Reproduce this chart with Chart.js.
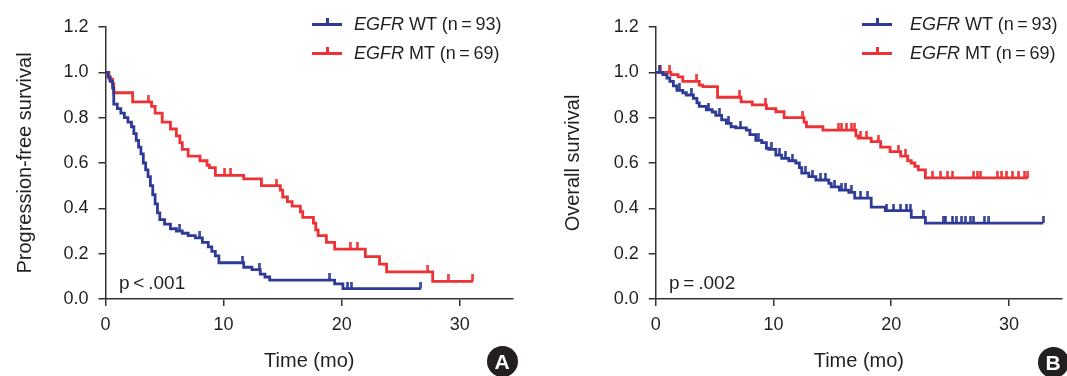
<!DOCTYPE html>
<html>
<head>
<meta charset="utf-8">
<script src="https://cdn.jsdelivr.net/npm/chart.js@4.4.1/dist/chart.umd.min.js"></script>
<style>
  html, body { margin: 0; padding: 0; background: #fff; }
  body { font-family: 'Liberation Sans', Arial, sans-serif; color: #231f20; }
  #wrap { position: relative; width: 1067px; height: 376px; overflow: hidden; }
  .panel { position: absolute; top: 0; height: 376px; }
  .legend-row { position: absolute; height: 24px; line-height: 24px; font-size: 18px; white-space: nowrap; }
  .legend-line { position: absolute; left: 0; top: 11px; width: 30px; height: 3px; }
  .legend-tick { position: absolute; left: 14px; top: 6px; width: 2.5px; height: 6px; }
  .legend-text { position: absolute; top: 0; }
  .pval { position: absolute; font-size: 19px; line-height: 24px; white-space: nowrap; }
  .badge { position: absolute; width: 31px; height: 31px; border-radius: 50%; background: #231f20; color: #fff;
           font-weight: bold; font-size: 21px; line-height: 31px; text-align: center; }
</style>
</head>
<body>
<div id="wrap">
  <div class="panel" style="left:0;width:533px"><canvas id="pfsChart"></canvas></div>
  <div class="panel" style="left:533px;width:534px"><canvas id="osChart"></canvas></div>
</div>
<script>
// Kaplan-Meier curves (time in months, survival as fraction)
const groupNames = ['WT', 'MT'];
const groupCounts = [93, 69];
const xTicks = [0, 10, 20, 30];
const yTicks = [0.0, 0.2, 0.4, 0.6, 0.8, 1.0, 1.2];

// A: progression-free survival
const pfsWtTime = [0.2, 0.4, 0.6, 0.7, 1.0, 1.3, 1.6, 1.9, 2.2, 2.4, 2.6, 2.8, 3.0, 3.2, 3.4, 3.6, 3.8, 4.0, 4.2, 4.4,
                   4.6, 5.0, 5.5, 6.0, 6.5, 7.0, 7.6, 8.2, 8.7, 9.0, 9.3, 9.6, 11.7, 12.4, 13.1, 13.5, 13.9, 19.4, 20.1];
const pfsWtSurv = [0.98, 0.96, 0.93, 0.86, 0.84, 0.82, 0.80, 0.78, 0.76, 0.73, 0.70, 0.67, 0.64, 0.60, 0.57, 0.54, 0.50, 0.46, 0.42, 0.38,
                   0.35, 0.33, 0.31, 0.30, 0.29, 0.28, 0.27, 0.25, 0.23, 0.21, 0.19, 0.16, 0.14, 0.13, 0.11, 0.097, 0.083, 0.067, 0.046];
const pfsWtCensor = [6.3, 8.0, 11.6, 13.0, 19.0, 20.5, 20.8, 26.7];

const pfsMtTime = [0.3, 0.6, 0.7, 2.3, 3.9, 4.2, 4.8, 5.5, 6.0, 6.3, 6.5, 7.0, 8.0, 8.6, 8.8, 9.3, 11.7, 13.2, 14.8, 15.0,
                   15.4, 15.8, 16.5, 16.7, 17.6, 17.8, 18.0, 18.7, 19.4, 22.0, 23.2, 23.8, 27.7];
const pfsMtSurv = [0.97, 0.95, 0.91, 0.87, 0.85, 0.82, 0.78, 0.75, 0.72, 0.69, 0.66, 0.63, 0.61, 0.59, 0.58, 0.545, 0.53, 0.50, 0.48, 0.45,
                   0.43, 0.41, 0.385, 0.36, 0.335, 0.305, 0.28, 0.25, 0.22, 0.187, 0.154, 0.12, 0.078];
const pfsMtCensor = [3.6, 10.1, 10.6, 14.5, 20.7, 21.3, 27.3, 29.0, 31.1];

// B: overall survival
const osWtTime = [0.6, 0.95, 1.2, 1.5, 1.8, 2.3, 2.6, 3.2, 3.5, 3.7, 4.3, 4.8, 5.1, 5.6, 6.0, 6.4, 6.8, 7.7, 8.0, 8.5,
                  9.0, 9.4, 9.6, 10.2, 10.7, 11.3, 11.9, 12.2, 12.4, 13.0, 13.6, 14.7, 14.9, 15.6, 16.4, 16.9, 18.3, 19.5, 21.7, 22.9];
const osWtSurv = [0.99, 0.975, 0.96, 0.94, 0.92, 0.91, 0.90, 0.885, 0.865, 0.85, 0.835, 0.825, 0.81, 0.79, 0.775, 0.76, 0.755, 0.745, 0.725, 0.70,
                  0.69, 0.665, 0.66, 0.635, 0.62, 0.61, 0.60, 0.58, 0.555, 0.54, 0.525, 0.51, 0.495, 0.48, 0.47, 0.445, 0.405, 0.39, 0.36, 0.335];
const osWtCensor = [0.3, 2.0, 3.0, 4.5, 5.4, 6.2, 7.2, 8.7, 9.8, 10.5, 11.0, 11.6, 12.7, 13.3, 14.0, 14.4, 15.2, 15.8, 16.1, 16.6,
                    17.4, 18.0, 19.6, 20.2, 20.8, 21.3, 21.6, 22.7, 24.4, 24.6, 25.2, 25.5, 26.0, 26.3, 26.7, 27.0, 27.9, 28.3, 32.9];

const osMtTime = [1.3, 1.9, 2.3, 3.7, 4.0, 5.25, 7.25, 8.2, 9.4, 10.2, 10.9, 12.6, 12.8, 14.2, 17.0, 17.2, 18.3, 19.1, 19.9, 20.8,
                  21.4, 21.7, 22.0, 22.3, 22.9];
const osMtSurv = [0.99, 0.98, 0.96, 0.944, 0.937, 0.89, 0.87, 0.856, 0.84, 0.826, 0.80, 0.78, 0.76, 0.745, 0.72, 0.71, 0.694, 0.67, 0.65, 0.63,
                  0.61, 0.60, 0.585, 0.57, 0.534];
const osMtCensor = [0.4, 1.2, 3.5, 7.1, 9.3, 12.5, 15.5, 15.8, 16.2, 16.6, 16.9, 17.4, 17.9, 18.9, 20.6, 21.2, 23.5, 24.2, 24.8, 25.2,
                    27.0, 27.3, 27.6, 29.0, 29.4, 29.8, 30.3, 30.8, 31.3, 31.6];

const BLUE = '#2d3a96';
const RED = '#ee3134';
const TEXT = '#231f20';
const AXIS = '#333333';
const FONT = "'Liberation Sans', Arial, sans-serif";

// survival value at time t (step function)
function survAt(times, surv, t) {
    let s = 1;
    for (let i = 0; i < times.length; i++) {
        if (times[i] <= t) s = surv[i];
    }
    return s;
}

// small upward tick used as the censor mark
function censorMark(color) {
    const c = document.createElement('canvas');
    c.width = 3;
    c.height = 14;
    const ctx = c.getContext('2d');
    ctx.fillStyle = color;
    ctx.fillRect(0.25, 0, 2.5, 7);
    return c;
}

function kmDatasets(times, surv, censor, color) {
    const end = Math.max(...censor, times[times.length - 1]);
    const steps = [{ x: 0, y: 1 }];
    times.forEach((t, i) => steps.push({ x: t, y: surv[i] }));
    steps.push({ x: end, y: surv[surv.length - 1] });
    const marks = censor.map(t => ({ x: t, y: survAt(times, surv, t) }));
    return [
        { data: steps, borderColor: color, borderWidth: 2.8, stepped: true, pointRadius: 0, fill: false },
        { data: marks, showLine: false, pointStyle: censorMark(color), pointRadius: 4, borderColor: color, backgroundColor: color }
    ];
}

function makeChart(id, yTitle, yWidth, titlePad, padRight, datasets) {
    return new Chart(document.getElementById(id), {
        type: 'line',
        data: { datasets: datasets },
        options: {
            responsive: true,
            maintainAspectRatio: false,
            animation: false,
            layout: { padding: { top: 27, right: padRight, bottom: 0, left: 0 } },
            plugins: { legend: { display: false }, tooltip: { enabled: false } },
            scales: {
                x: {
                    type: 'linear',
                    min: 0,
                    max: 34.5,
                    afterFit: s => { s.height = 77; },
                    afterBuildTicks: s => { s.ticks = xTicks.map(v => ({ value: v })); },
                    ticks: { padding: 8, color: TEXT, font: { size: 18, family: FONT } },
                    grid: { drawOnChartArea: false, tickLength: 7, color: AXIS, lineWidth: 1.5 },
                    border: { color: AXIS, width: 1.5 },
                    title: { display: true, text: 'Time (mo)', color: TEXT, font: { size: 20, family: FONT }, padding: { top: 4, bottom: 3 } }
                },
                y: {
                    min: 0,
                    max: 1.2,
                    afterFit: s => { s.width = yWidth; },
                    afterBuildTicks: s => { s.ticks = yTicks.map(v => ({ value: v })); },
                    ticks: { padding: 10, color: TEXT, font: { size: 18, family: FONT }, callback: v => v.toFixed(1) },
                    grid: { drawOnChartArea: false, tickLength: 7, color: AXIS, lineWidth: 1.5 },
                    border: { color: AXIS, width: 1.5 },
                    title: { display: true, text: yTitle, color: TEXT, font: { size: 20, family: FONT }, padding: { top: titlePad, bottom: 0 } }
                }
            }
        }
    });
}

makeChart('pfsChart', 'Progression-free survival', 105.5, 13, 20, [
    ...kmDatasets(pfsWtTime, pfsWtSurv, pfsWtCensor, BLUE),
    ...kmDatasets(pfsMtTime, pfsMtSurv, pfsMtCensor, RED)
]);
makeChart('osChart', 'Overall survival', 122.7, 28, 0, [
    ...kmDatasets(osWtTime, osWtSurv, osWtCensor, BLUE),
    ...kmDatasets(osMtTime, osMtSurv, osMtCensor, RED)
]);

// legends, p values and panel letters
const wrap = document.getElementById('wrap');
const legendLeft = [312, 862];
const legendText = [354, 910];
const legendRowY = [23.5, 52.5];
const groupColors = [BLUE, RED];

legendLeft.forEach((lx, p) => {
    groupNames.forEach((name, i) => {
        const row = document.createElement('div');
        row.className = 'legend-row';
        row.style.left = lx + 'px';
        row.style.top = (legendRowY[i] - 12) + 'px';
        row.innerHTML = '<span class="legend-line" style="background:' + groupColors[i] + '"></span>' +
            '<span class="legend-tick" style="background:' + groupColors[i] + '"></span>' +
            '<span class="legend-text" style="left:' + (legendText[p] - lx) + 'px"><i>EGFR</i> ' + name +
            ' (n\u2009=\u2009' + groupCounts[i] + ')</span>';
        wrap.appendChild(row);
    });
});

const pTexts = ['p\u2009<\u2009.001', 'p\u2009=\u2009.002'];
const pLeft = [119, 669];
pTexts.forEach((t, i) => {
    const d = document.createElement('div');
    d.className = 'pval';
    d.style.left = pLeft[i] + 'px';
    d.style.top = '271px';
    d.textContent = t;
    wrap.appendChild(d);
});

const badges = ['A', 'B'];
const badgeCenter = [[502, 361], [1053, 362]];
badges.forEach((b, i) => {
    const d = document.createElement('div');
    d.className = 'badge';
    d.style.left = (badgeCenter[i][0] - 15.5) + 'px';
    d.style.top = (badgeCenter[i][1] - 15.5) + 'px';
    d.textContent = b;
    wrap.appendChild(d);
});
</script>
</body>
</html>
